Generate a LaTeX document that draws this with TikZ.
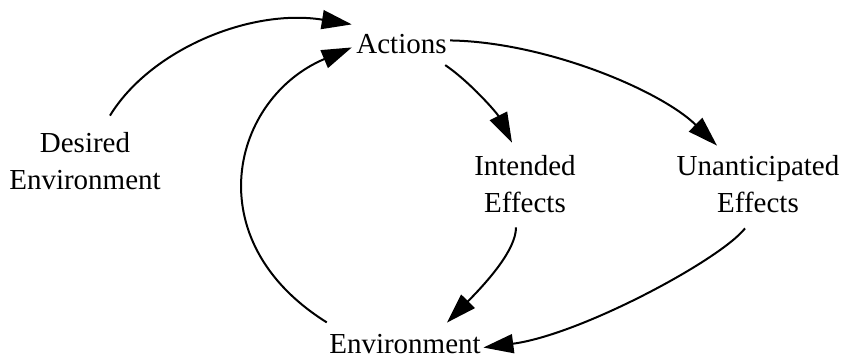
\documentclass[tikz,border=0pt]{standalone}
\usepackage{fontspec}
\setmainfont{Liberation Serif}
\usetikzlibrary{arrows.meta,calc}
\begin{document}
\begin{tikzpicture}[x=1pt,y=-1pt,
  lbl/.style={inner sep=0pt, font=\fontsize{29}{37}\selectfont, align=center},
  conn/.style={line width=2pt, -{Triangle[length=30pt,width=19pt]}}]
\useasboundingbox (0,0) rectangle (847,356);
\node[lbl, anchor=base] (act) at (401.5,53) {Actions};
\node[lbl] (des) at (85,161.5) {Desired\\Environment};
\node[lbl] (int) at (525,184.5) {Intended\\Effects};
\node[lbl] (una) at (758,184.5) {Unanticipated\\Effects};
\node[lbl, anchor=base] (env) at (405,353) {Environment};
\draw[conn] ($(des.north)+(25,-17)$) .. controls (150,50) and (250,8) .. ($(act.north west)+(-4.4,-9.2)$);
\draw[conn] ($(env.north west)+(-2.3,-11.2)$) .. controls (195,240) and (232,98) .. ($(act.west)+(-4.4,3.9)$);
\draw[conn] ($(act.south east)+(-1.6,11.6)$) .. controls (470,82) and (497,113) .. ($(int.north)+(-13,-13)$);
\draw[conn] ($(act.east)+(3.4,-3.1)$) .. controls (545,42) and (660,90) .. ($(una.north)+(-41,-10)$);
\draw[conn] ($(int.south)+(-9,14)$) .. controls (516,250) and (487,282) .. ($(env.north)+(42,-11)$);
\draw[conn] ($(una.south)+(-13,15)$) .. controls (720,260) and (580,335) .. ($(env.east)+(2.5,4)$);
\end{tikzpicture}
\end{document}
